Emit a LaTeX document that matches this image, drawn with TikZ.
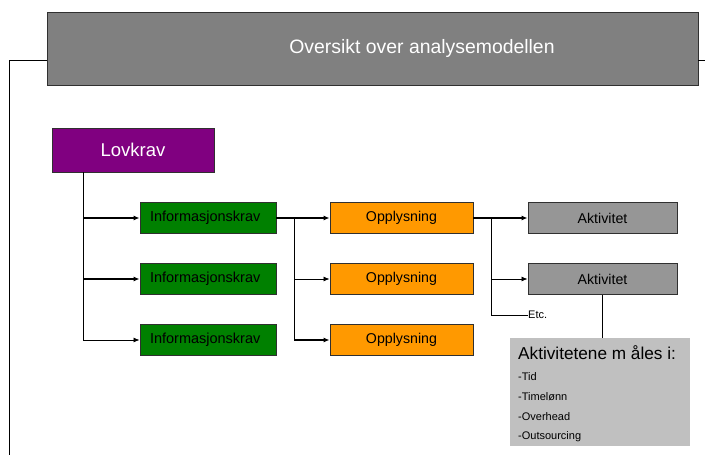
\documentclass[tikz,border=0pt]{standalone}
\usepackage{fontspec}
\setmainfont{Liberation Sans}
\usetikzlibrary{arrows.meta}
\definecolor{titlegray}{HTML}{808080}
\definecolor{lovpurple}{HTML}{800080}
\definecolor{infogreen}{HTML}{008000}
\definecolor{opporange}{HTML}{FF9900}
\definecolor{aktgray}{HTML}{969696}
\definecolor{measgray}{HTML}{C0C0C0}
\definecolor{edge}{HTML}{303030}
\begin{document}
\begin{tikzpicture}[x=1pt,y=-1pt,
  box/.style={draw=edge, line width=0.9pt, inner sep=0pt, align=center},
  infobox/.style={box, fill=infogreen, minimum width=136pt, minimum height=31pt, text width=116pt, align=left, font=\fontsize{14.5}{16}\selectfont},
  oppbox/.style={box, fill=opporange, minimum width=143pt, minimum height=31pt, font=\fontsize{14.2}{16}\selectfont},
  aktbox/.style={box, fill=aktgray, minimum width=149pt, minimum height=31pt, font=\fontsize{14.2}{16}\selectfont},
  thickl/.style={line width=1.8pt},
  thinl/.style={line width=0.8pt},
  tip/.style={-{Latex[length=6pt,width=5pt]}},
  item/.style={anchor=west, inner sep=0pt, font=\fontsize{11}{12}\selectfont}
]
\useasboundingbox (0,0) rectangle (705,455);

% title
\node[box, fill=titlegray, minimum width=651pt, minimum height=73pt] (title) at (372.5,48.5) {};
\node[text=white, inner sep=0pt, font=\fontsize{19.4}{21}\selectfont] (ttext) at (422,48) {Oversikt over analysemodellen};
\coordinate (lx) at (9,455);
\draw[thinl] (title.west |- 0,60) -- (9,60) -- (lx);
\draw[thinl] (title.east |- 0,60) -- (705,60);

% Lovkrav
\node[box, fill=lovpurple, text=white, minimum width=162pt, minimum height=44pt, font=\fontsize{18.5}{20}\selectfont] (lov) at (133,150) {Lovkrav};

% column 1
\node[infobox] (inf1) at (208,218) {Informasjonskrav};
\node[infobox] (inf2) at (208,279) {Informasjonskrav};
\node[infobox] (inf3) at (208,340) {Informasjonskrav};

% column 2
\node[oppbox] (opp1) at (401.5,218) {Opplysning};
\node[oppbox] (opp2) at (401.5,279) {Opplysning};
\node[oppbox] (opp3) at (401.5,340) {Opplysning};

% column 3
\node[aktbox] (akt1) at (602.5,218) {Aktivitet};
\node[aktbox] (akt2) at (602.5,279) {Aktivitet};
\node[item, font=\fontsize{11}{12}\selectfont] (etc) at (528,315) {Etc.};

% measure box
\node[fill=measgray, minimum width=180pt, minimum height=108pt, inner sep=0pt] (meas) at (600,392) {};
\node[item, font=\fontsize{17.2}{19}\selectfont] (mhead) at (518,353) {Aktivitetene m åles i:};
\node[item] (m1) at (518,377) {-Tid};
\node[item] (m2) at (518,397) {-Timelønn};
\node[item] (m3) at (518,417) {-Overhead};
\node[item] (m4) at (518,437) {-Outsourcing};

% connectors column 1
\coordinate (bx) at (83,0);
\draw[thinl, tip] (lov.south -| bx) |- (inf3.west);
\draw[thickl, tip] (inf1.west -| bx) -- (inf1.west);
\draw[thickl, tip] (inf2.west -| bx) -- (inf2.west);

% connectors column 2
\coordinate (cx) at (294,0);
\draw[thickl, tip] (inf1.east) -- (opp1.west);
\draw[thinl] (inf1.east -| cx) -- (opp3.west -| cx);
\draw[thinl, tip] (opp2.west -| cx) -- (opp2.west);
\draw[thickl, tip] (opp3.west -| cx) -- (opp3.west);

% connectors column 3
\coordinate (dx) at (491,0);
\draw[thickl, tip] (opp1.east) -- (akt1.west);
\draw[thinl] (opp1.east -| dx) |- (etc.west);
\draw[thinl, tip] (akt2.west -| dx) -- (akt2.west);
\draw[thinl] (akt2.south) -- (akt2.south |- meas.north);
\end{tikzpicture}
\end{document}
